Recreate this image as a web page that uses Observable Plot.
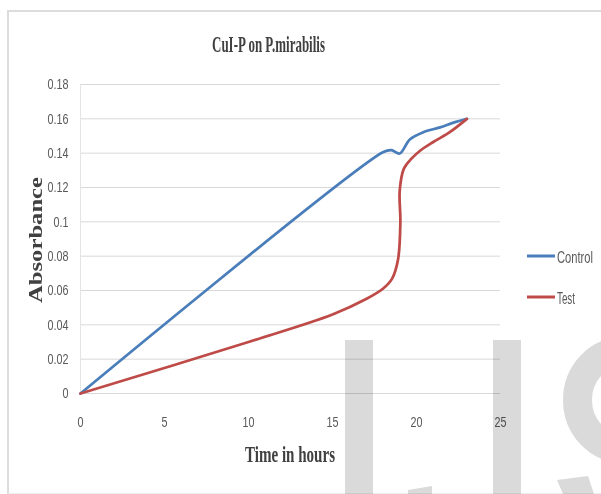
<!DOCTYPE html>
<html>
<head>
<meta charset="utf-8">
<script src="https://cdn.jsdelivr.net/npm/d3@7"></script>
<script src="https://cdn.jsdelivr.net/npm/@observablehq/plot@0.6"></script>
<style>
  html, body { margin: 0; padding: 0; background: #fff; }
  #wrap { position: relative; width: 601px; height: 494px; overflow: hidden; }
  #frame { position: absolute; left: 7px; top: 10px; width: 600px; height: 481px;
           border-top: 2px solid #dcdcdc; border-left: 2px solid #dcdcdc; border-bottom: 1px solid #eeeeee; }
  #chart, #labels, #mark { position: absolute; left: 0; top: 0; }
  #mark { mix-blend-mode: multiply; pointer-events: none; }
</style>
</head>
<body>
<div id="wrap">
  <div id="frame"></div>
  <div id="chart"></div>
  <svg id="labels" width="601" height="494"></svg>
  <svg id="mark" width="601" height="494"></svg>
</div>
<script>
// Absorbance readings over time (hours)
const controlHours = [0, 18, 18.5, 19, 19.6, 20.4, 21.4, 22.2, 23];
const controlAbs   = [0, 0.1405, 0.1418, 0.1398, 0.148, 0.1522, 0.155, 0.1578, 0.16];

const testHours = [0, 10, 15, 17, 18, 18.55, 18.9, 19.04, 19.0, 19.25, 19.7, 20.25, 21, 22, 23];
const testAbs   = [0, 0.030, 0.046, 0.055, 0.061, 0.0669, 0.078, 0.100, 0.118, 0.131, 0.1368, 0.1417, 0.1465, 0.1524, 0.16];

const seriesNames = ["Control", "Test"];
const seriesColors = ["#4a7ebb", "#be4b48"];

const xTicks = [0, 5, 10, 15, 20, 25];
const yTicks = [0, 0.02, 0.04, 0.06, 0.08, 0.1, 0.12, 0.14, 0.16, 0.18];

const titleText = "CuI-P on P.mirabilis";
const xTitle = "Time in hours";
const yTitle = "Absorbance";

const rows = [
  ...controlHours.map((h, i) => ({series: seriesNames[0], hours: h, abs: controlAbs[i]})),
  ...testHours.map((h, i) => ({series: seriesNames[1], hours: h, abs: testAbs[i]}))
];

const sans = '"Liberation Sans", Arial, sans-serif';
const serif = '"Liberation Serif", "DejaVu Serif", serif';

const chart = Plot.plot({
  width: 601,
  height: 494,
  marginLeft: 80,
  marginRight: 101,
  marginTop: 84,
  marginBottom: 101,
  style: {fontFamily: sans, fontSize: "15px", color: "#595959", background: "transparent"},
  x: {domain: [0, 25]},
  y: {domain: [0, 0.18]},
  color: {domain: seriesNames, range: seriesColors},
  marks: [
    Plot.gridY(yTicks, {stroke: "#d9d9d9", strokeOpacity: 1, strokeWidth: 1}),
    Plot.ruleX([0], {stroke: "#e4e4e4"}),
    Plot.axisY(yTicks, {tickSize: 0, tickPadding: 12, tickFormat: d => String(d), label: null}),
    Plot.axisX(xTicks, {tickSize: 0, tickPadding: 23, label: null}),
    Plot.line(rows, {x: "hours", y: "abs", z: "series", stroke: "series",
                     curve: "catmull-rom", strokeWidth: 2.75, strokeLinejoin: "round"})
  ]
});
document.getElementById("chart").appendChild(chart);

// Narrow the tick labels
d3.select(chart).selectAll("g[aria-label='y-axis tick label'] text, g[aria-label='x-axis tick label'] text")
  .each(function() {
    const w = this.getComputedTextLength();
    this.setAttribute("textLength", (w * 0.72).toFixed(2));
    this.setAttribute("lengthAdjust", "spacingAndGlyphs");
  });

// Titles and legend, squeezed horizontally to a given width
const lab = d3.select("#labels");
function fitText(parent, txt, x, y, len, size, family, weight, fill, anchor) {
  const g = parent.append("g");
  const t = g.append("text").attr("text-anchor", anchor || "middle")
    .style("font-family", family).style("font-size", size + "px")
    .style("font-weight", weight).attr("fill", fill).text(txt);
  const w = t.node().getComputedTextLength();
  g.attr("transform", `translate(${x},${y}) scale(${len / w},1)`);
  return g;
}
fitText(lab, titleText, 268.5, 52, 113, 23, serif, "bold", "#404040");
fitText(lab, xTitle, 290, 462, 90, 23, serif, "bold", "#404040");
const yg = lab.append("g").attr("transform", "translate(42,240) rotate(-90)");
fitText(yg, yTitle, 0, 0, 126, 19, serif, "bold", "#404040");

const legendY = [256, 297];
seriesNames.forEach((name, i) => {
  lab.append("line").attr("x1", 527).attr("x2", 555)
    .attr("y1", legendY[i]).attr("y2", legendY[i])
    .attr("stroke", seriesColors[i]).attr("stroke-width", 3);
  fitText(lab, name, 557, legendY[i] + 7, name === "Control" ? 36 : 18, 17, sans, "normal", "#595959", "start");
});

// Publisher watermark shapes
const wm = d3.select("#mark");
const wmFill = "#dadada";
wm.append("rect").attr("x", 345).attr("y", 340).attr("width", 28).attr("height", 160).attr("fill", wmFill);
wm.append("rect").attr("x", 493).attr("y", 340).attr("width", 28).attr("height", 160).attr("fill", wmFill);
wm.append("path").attr("d", "M408,490 L432,486 L432,494 L408,494 Z").attr("fill", wmFill);
wm.append("ellipse").attr("cx", 622).attr("cy", 400).attr("rx", 44.5).attr("ry", 48)
  .attr("fill", "none").attr("stroke", wmFill).attr("stroke-width", 29);
wm.append("path").attr("d", "M557,480 L588,476 L594,494 L563,494 Z").attr("fill", wmFill);
</script>
</body>
</html>
